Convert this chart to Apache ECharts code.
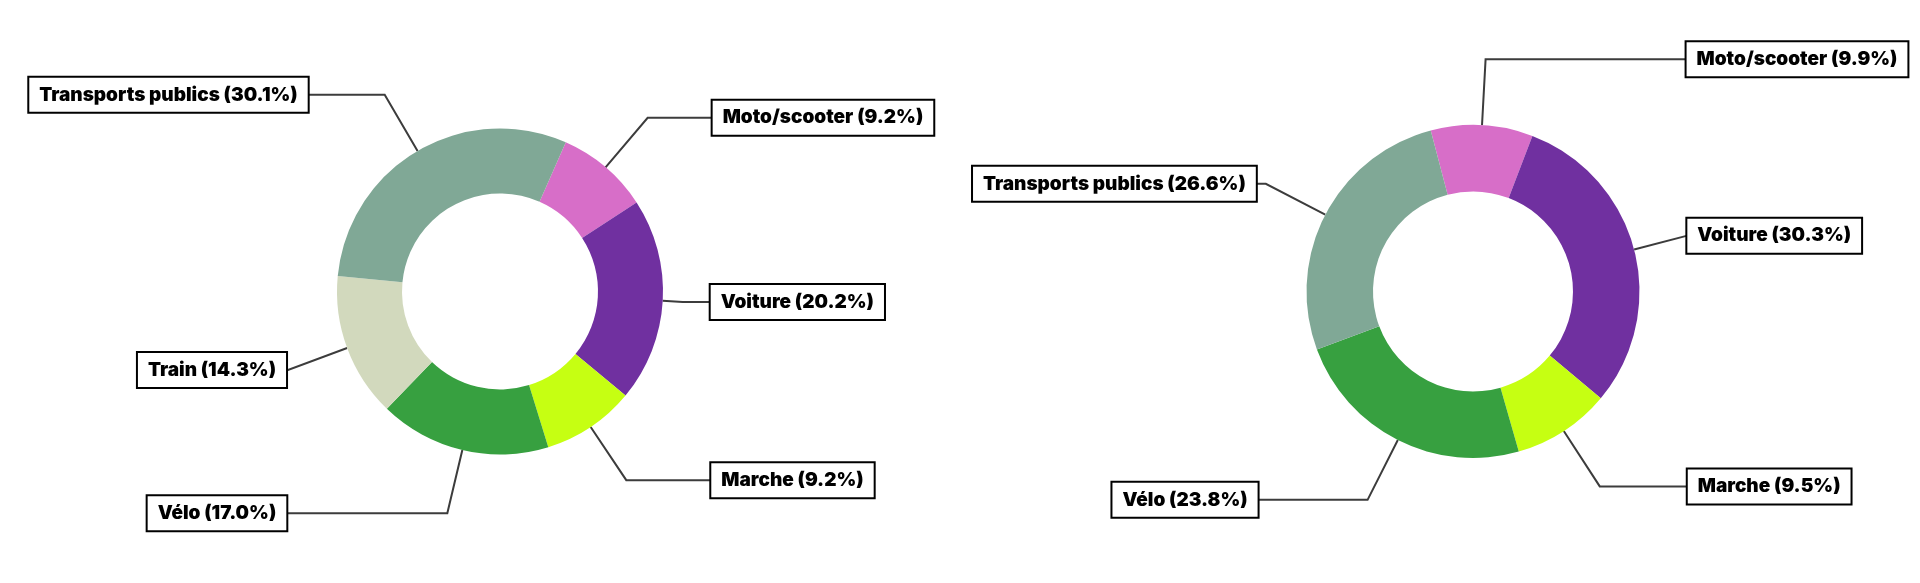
<!DOCTYPE html>
<html>
<head>
<meta charset="utf-8">
<script src="https://cdn.jsdelivr.net/npm/echarts@6/dist/echarts.min.js"></script>
<style>
  html, body { margin: 0; padding: 0; background: #ffffff; }
  #chart { width: 1920px; height: 583px; }
</style>
</head>
<body>
<div id="chart"></div>
<script>
// ---- Data ----
const categoriesLeft = ['Moto/scooter', 'Voiture', 'Marche', 'Vélo', 'Train', 'Transports publics'];
const valuesLeft = [9.2, 20.2, 9.2, 17.0, 14.3, 30.1];

const categoriesRight = ['Moto/scooter', 'Voiture', 'Marche', 'Vélo', 'Transports publics'];
const valuesRight = [9.9, 30.3, 9.5, 23.8, 26.6];

// ---- Styles ----
const colorByName = {
  'Moto/scooter': '#D76EC8',
  'Voiture': '#7030A0',
  'Marche': '#C6FF12',
  'Vélo': '#37A040',
  'Train': '#D2D9BD',
  'Transports publics': '#80A896'
};
// label line [length, length2] per category
const lineLeft = {
  'Moto/scooter': [65, 65],
  'Voiture': [20, 28],
  'Marche': [64, 85],
  'Vélo': [65, 161],
  'Train': [63, 2],
  'Transports publics': [65, 77]
};
const lineRight = {
  'Moto/scooter': [66, 201],
  'Voiture': [55, 0],
  'Marche': [66, 88],
  'Vélo': [67, 110],
  'Transports publics': [67, 10]
};

function buildData(cats, vals, lines) {
  return cats.map((name, i) => ({
    name: name,
    value: vals[i],
    itemStyle: { color: colorByName[name] },
    labelLine: { length: lines[name][0], length2: lines[name][1] }
  }));
}

const labelStyle = {
  show: true,
  position: 'outside',
  alignTo: 'none',
  formatter: p => p.name + ' (' + Number(p.value).toFixed(1) + '%)',
  color: '#000',
  fontFamily: 'Inter',
  fontWeight: 900,
  fontSize: 19,
  lineHeight: 22,
  backgroundColor: '#ffffff',
  borderColor: '#000000',
  borderWidth: 2,
  borderRadius: 0,
  padding: [6, 10],
  distanceToLabelLine: 0,
  bleedMargin: 0
};
const labelLineStyle = {
  show: true,
  smooth: false,
  lineStyle: { color: '#3c3c3c', width: 2 }
};

const chart = echarts.init(document.getElementById('chart'), null, { renderer: 'canvas' });
chart.setOption({
  backgroundColor: '#ffffff',
  animation: false,
  series: [
    {
      type: 'pie',
      center: [500, 291.5],
      radius: [98, 163],
      startAngle: 66.2,
      clockwise: true,
      avoidLabelOverlap: false,
      itemStyle: { borderWidth: 0 },
      label: labelStyle,
      labelLine: labelLineStyle,
      emphasis: { disabled: true },
      data: buildData(categoriesLeft, valuesLeft, lineLeft)
    },
    {
      type: 'pie',
      center: [1473, 291.5],
      radius: [100, 166.5],
      startAngle: 104.7,
      clockwise: true,
      avoidLabelOverlap: false,
      itemStyle: { borderWidth: 0 },
      label: labelStyle,
      labelLine: labelLineStyle,
      emphasis: { disabled: true },
      data: buildData(categoriesRight, valuesRight, lineRight)
    }
  ]
});
</script>
</body>
</html>
